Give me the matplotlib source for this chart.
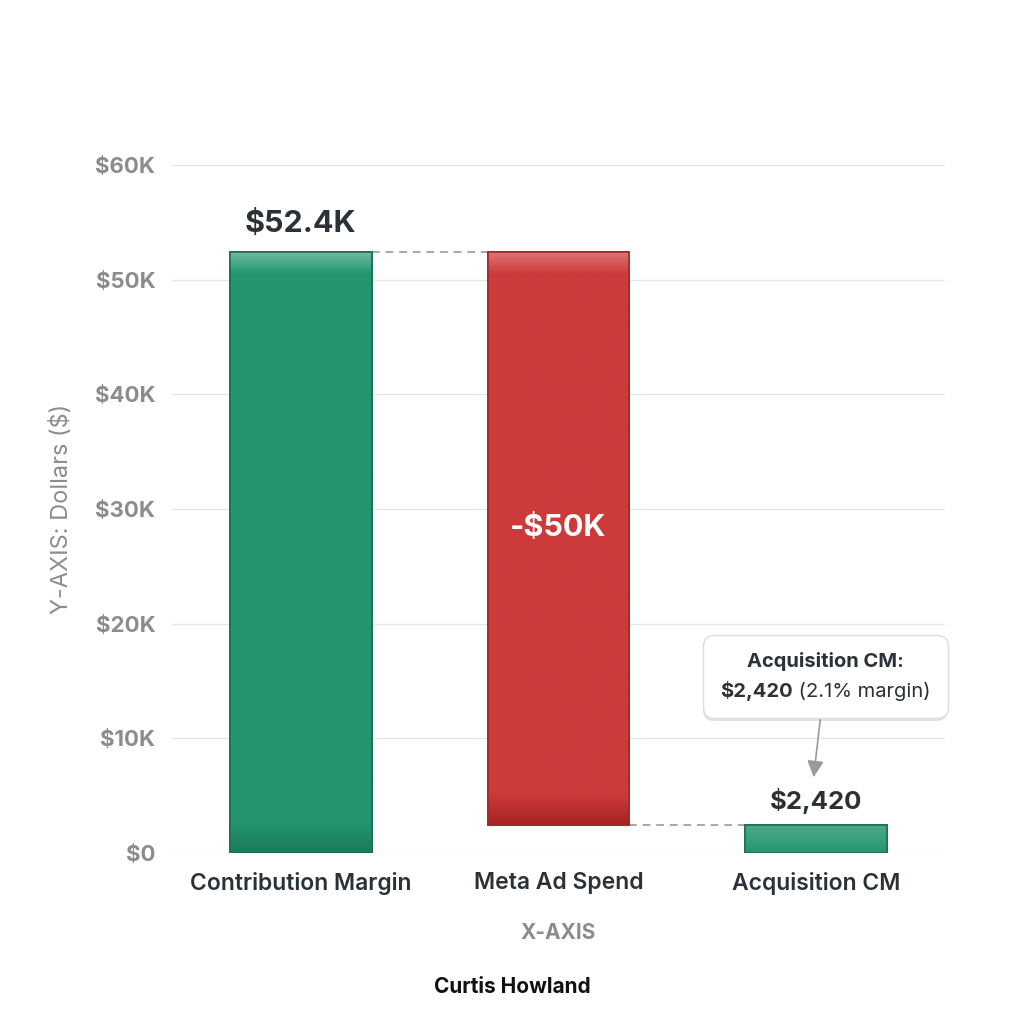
import numpy as np
import matplotlib.pyplot as plt
from matplotlib.colors import LinearSegmentedColormap
from matplotlib.offsetbox import TextArea, HPacker, VPacker, AnnotationBbox
from matplotlib import patheffects as pe

plt.rcParams['font.family'] = ['Inter', 'DejaVu Sans']

# data
categories = ["Contribution Margin", "Meta Ad Spend", "Acquisition CM"]
bar_bottoms = [0, 2420, 0]
bar_tops = [52420, 52420, 2420]
bar_colors = ["#239670", "#CC3A3A", "#239670"]
light_colors = ["#6CBB9D", "#DE7474", "#4DAA88"]
dark_colors = ["#1C7A5A", "#A82424", "#1E8A66"]
edge_colors = ["#1B6E52", "#9E2A2A", "#1B6E52"]
value_labels = ["$52.4K", "-$50K", "$2,420"]
yticks = [0, 10000, 20000, 30000, 40000, 50000, 60000]
ytick_labels = ["$0", "$10K", "$20K", "$30K", "$40K", "$50K", "$60K"]

dark = "#2A3137"
grey = "#8C8C8C"

fig = plt.figure(figsize=(10.24, 10.24), dpi=100)
ax = fig.add_axes([172 / 1024, 1 - 853 / 1024, 773 / 1024, 688 / 1024])

x = list(range(len(categories)))
width = 0.55
heights = [t - b for t, b in zip(bar_tops, bar_bottoms)]
bars = ax.bar(x, heights, bottom=bar_bottoms, width=width, color=bar_colors,
              edgecolor=edge_colors, linewidth=1.2, zorder=3)

# soft vertical shading inside each bar
for b, lc, bc, dc in zip(bars, light_colors, bar_colors, dark_colors):
    x0, y0, w, h = b.get_x(), b.get_y(), b.get_width(), b.get_height()
    px_h = max(int(h / 60000 * 688), 2)
    stops = [(0, dc), (min(30 / px_h, 0.45), bc), (max(1 - 22 / px_h, 0.55), bc), (1, lc)]
    if px_h < 40:
        stops = [(0, bc), (1, lc)]
    cmap = LinearSegmentedColormap.from_list("g", stops)
    grad = np.linspace(0, 1, 256).reshape(-1, 1)
    im = ax.imshow(grad, extent=[x0, x0 + w, y0, y0 + h], origin="lower",
                   cmap=cmap, aspect="auto", zorder=3.5)
    im.set_clip_path(b)
    ax.add_patch(plt.Rectangle((x0, y0), w, h, fill=False, ec=b.get_edgecolor(),
                               lw=1.2, zorder=3.6))

# connectors between bars
for i in range(len(x) - 1):
    level = bar_tops[i] if i == 0 else bar_bottoms[i]
    ax.plot([x[i] + width / 2, x[i + 1] - width / 2], [level, level],
            ls=(0, (4, 3)), color="#A8A8A8", lw=1.4, zorder=2)

# value labels
ax.text(x[0], bar_tops[0] + 1200, value_labels[0], ha="center", va="bottom",
        fontsize=22, fontweight="bold", color=dark)
ax.text(x[1], (bar_tops[1] + bar_bottoms[1]) / 2 + 900, value_labels[1],
        ha="center", va="center", fontsize=22, fontweight="bold", color="white", zorder=4)
ax.text(x[2], bar_tops[2] + 1000, value_labels[2], ha="center", va="bottom",
        fontsize=18.5, fontweight="bold", color=dark)

# callout
line1 = TextArea("Acquisition CM:", textprops=dict(fontsize=14.5, fontweight="bold", color=dark))
bold_part = TextArea("$2,420", textprops=dict(fontsize=14.5, fontweight="bold", color=dark))
reg_part = TextArea(" (2.1% margin)", textprops=dict(fontsize=14.5, color=dark))
line2 = HPacker(children=[bold_part, reg_part], align="baseline", pad=0, sep=0)
box = VPacker(children=[line1, line2], align="center", pad=0, sep=7)
ab = AnnotationBbox(box, (x[2] - 0.01, 6600), xybox=(x[2] + 0.035, 15400),
                    xycoords="data", boxcoords="data", frameon=True, pad=0.2,
                    bboxprops=dict(boxstyle="round,pad=1.25,rounding_size=0.8",
                                   fc="white", ec="#DDDDDD", lw=1),
                    arrowprops=dict(arrowstyle="-|>", color="#9A9A9A", lw=1.2,
                                    mutation_scale=18, shrinkA=0, shrinkB=0),
                    annotation_clip=False, zorder=5)
ax.add_artist(ab)
ab.patch.set_path_effects([pe.SimplePatchShadow(offset=(0, -2), shadow_rgbFace="#888888", alpha=0.25),
                           pe.Normal()])

ax.set_xlim(-0.5, 2.5)
ax.set_ylim(0, 60000)
ax.set_yticks(yticks)
ax.set_yticklabels(ytick_labels, fontsize=16, fontweight="bold", color=grey)
ax.set_xticks(x)
ax.set_xticklabels(categories, fontsize=16.5, fontweight="semibold", color=dark)
ax.tick_params(axis="both", length=0)
ax.tick_params(axis="y", pad=12)
ax.tick_params(axis="x", pad=14)
ax.grid(axis="y", color="#E6E6E6", lw=1, zorder=0)
ax.set_axisbelow(True)
for s in ax.spines.values():
    s.set_visible(False)

ax.set_ylabel("Y-AXIS: Dollars ($)", fontsize=17, color=grey)
ax.yaxis.set_label_coords(-0.128, 0.5)
ax.set_xlabel("X-AXIS", fontsize=15, fontweight="bold", color=grey, labelpad=20)

fig.text(512 / 1024, 1 - 987 / 1024, "Curtis Howland", ha="center", va="center",
         fontsize=15, fontweight="bold", color="#111111")

fig.savefig("out.png", dpi=100, facecolor="white")
